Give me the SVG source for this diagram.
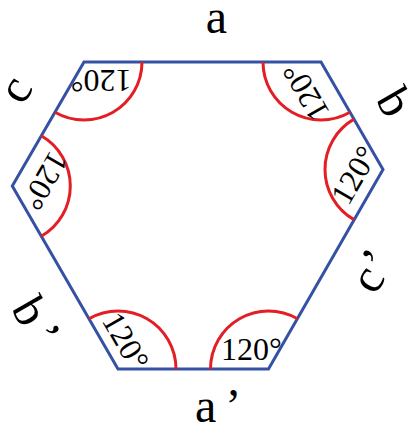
<svg xmlns="http://www.w3.org/2000/svg" width="412" height="430" viewBox="0 0 412 430">
  <style>
    .hex { fill: none; stroke: #3451a3; stroke-width: 3; stroke-linejoin: miter; }
    .arc { fill: none; stroke: #e31e24; stroke-width: 3; }
    .ang { font-family: "Liberation Serif", "DejaVu Serif", serif; font-size: 32px; fill: #000; text-anchor: middle; }
    .side { font-family: "Liberation Serif", "DejaVu Serif", serif; font-size: 48px; fill: #000; }
  </style>
  <rect width="412" height="430" fill="#fff"/>
  <g id="hexagon">
    <polygon class="hex" points="84,62 321,62 383,169.4 268.5,369 118,369 12.3,186"/>
  </g>
  <g id="angle-arcs">
    <path class="arc" d="M142,62 A58,58 0 0 1 55,112.23"/>
    <path class="arc" d="M350,112.23 A58,58 0 0 1 263,62"/>
    <path class="arc" d="M354,219.63 A58,58 0 0 1 354,119.17"/>
    <path class="arc" d="M210.5,369 A58,58 0 0 1 297.5,318.77"/>
    <path class="arc" d="M89,318.77 A58,58 0 0 1 176,369"/>
    <path class="arc" d="M41.3,135.77 A58,58 0 0 1 41.3,236.23"/>
  </g>
  <g id="angle-labels">
    <text class="ang" transform="translate(101,70) rotate(180)">120°</text>
    <text class="ang" transform="translate(315,86.5) rotate(240)">120°</text>
    <text class="ang" transform="translate(363.5,180.5) rotate(-60)">120°</text>
    <text class="ang" transform="translate(251.5,359.7)">120°</text>
    <text class="ang" transform="translate(116.5,346.5) rotate(60)">120°</text>
    <text class="ang" transform="translate(35.5,175.5) rotate(120)">120°</text>
  </g>
  <g id="side-labels">
    <text class="side" x="216.5" y="33" text-anchor="middle">a</text>
    <text class="side" transform="translate(381,110) rotate(60)" text-anchor="middle">b</text>
    <text class="side" transform="translate(375.4,296) rotate(-60)">c<tspan dx="3">’</tspan></text>
    <text class="side" x="195" y="422">a<tspan dx="9">’</tspan></text>
    <text class="side" transform="translate(10.5,308.5) rotate(60)">b<tspan dx="8">’</tspan></text>
    <text class="side" transform="translate(28.7,97) rotate(-60)" text-anchor="middle">c</text>
  </g>
</svg>
